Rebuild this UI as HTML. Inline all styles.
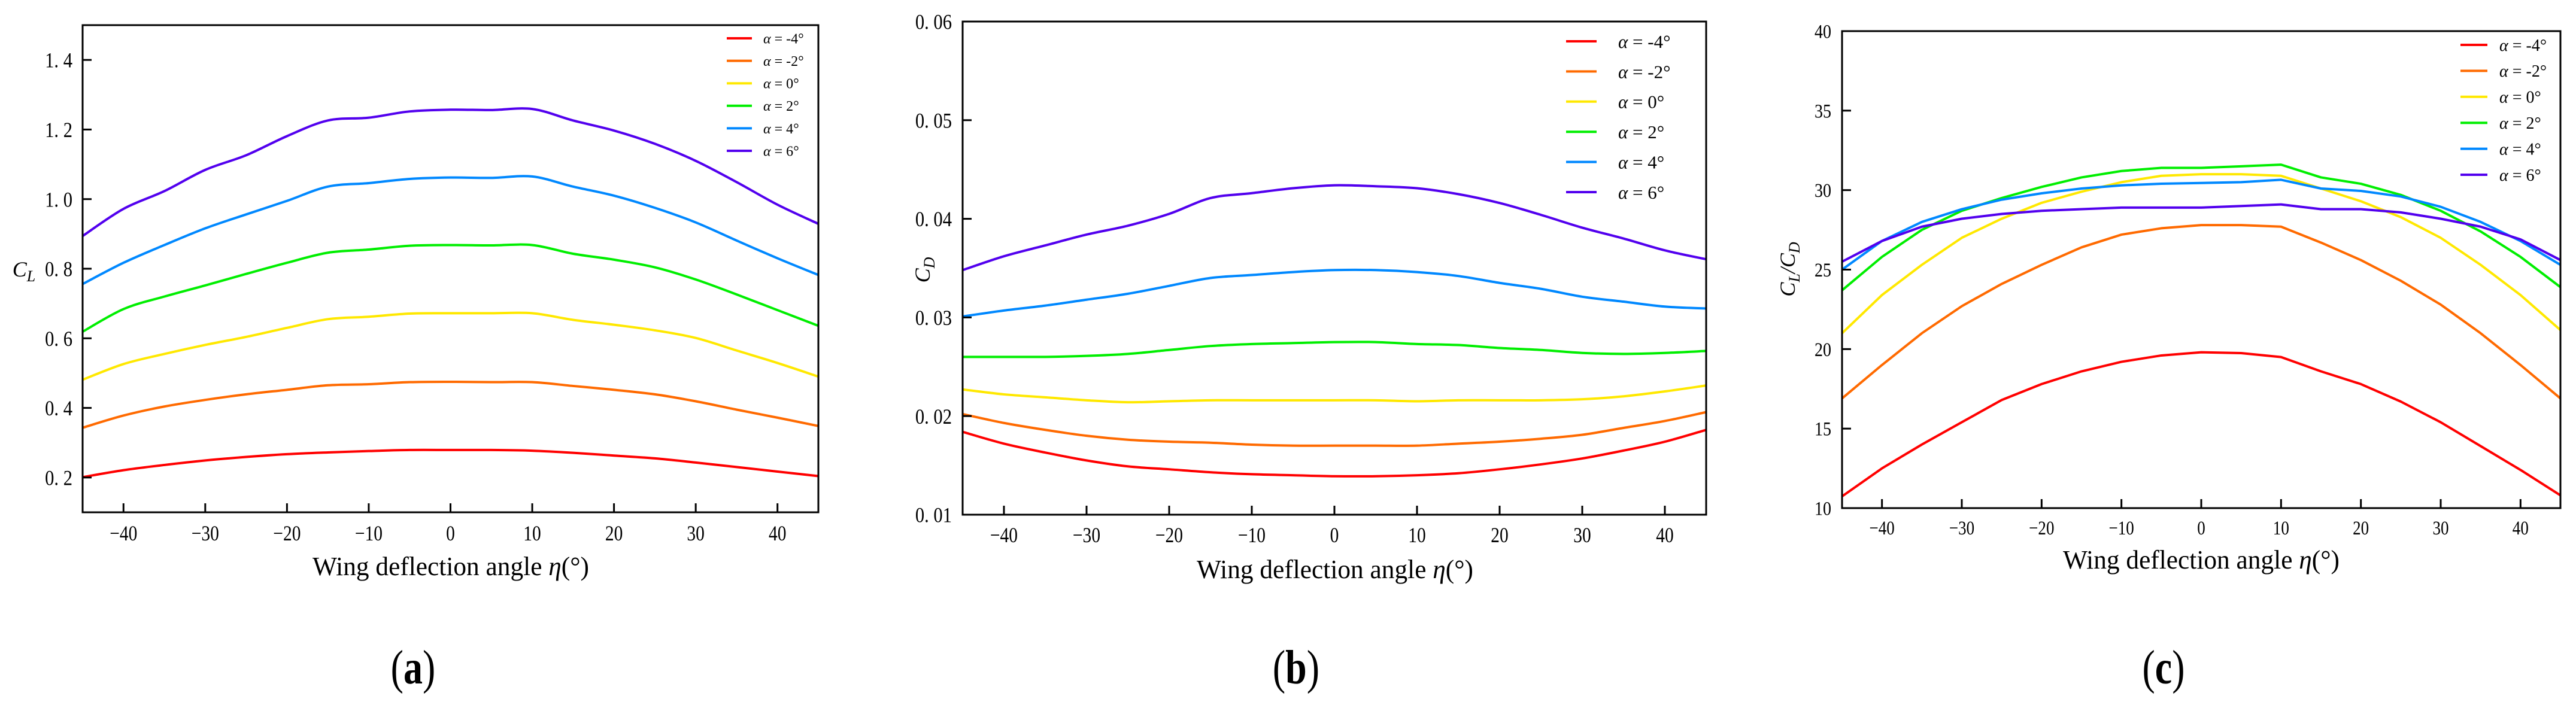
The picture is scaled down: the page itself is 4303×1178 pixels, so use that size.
<!DOCTYPE html>
<html><head><meta charset="utf-8"><style>
html,body{margin:0;padding:0;background:#fff;}
svg{display:block;font-family:"Liberation Serif",serif;}
</style></head><body>
<svg id="fig" width="4303" height="1178" viewBox="0 0 4303 1178" xmlns="http://www.w3.org/2000/svg"></svg>
<script>
const etaValues=[-45,-40,-35,-30,-25,-20,-15,-10,-5,0,5,10,15,20,25,30,35,40,45];
const alphaLabels=["-4","-2","0","2","4","6"];
const clM4=[0.201,0.221,0.236,0.249,0.259,0.267,0.272,0.276,0.279,0.279,0.279,0.277,0.271,0.263,0.255,0.243,0.230,0.217,0.204];
const clM2=[0.343,0.378,0.404,0.423,0.439,0.452,0.465,0.468,0.474,0.475,0.474,0.474,0.463,0.452,0.439,0.419,0.395,0.372,0.348];
const cl0=[0.481,0.526,0.555,0.581,0.604,0.630,0.655,0.662,0.671,0.672,0.672,0.672,0.653,0.639,0.623,0.601,0.565,0.529,0.490];
const cl2=[0.619,0.684,0.720,0.752,0.785,0.817,0.846,0.855,0.866,0.868,0.867,0.868,0.843,0.826,0.804,0.769,0.726,0.681,0.636];
const cl4=[0.756,0.817,0.868,0.916,0.956,0.995,1.036,1.046,1.058,1.062,1.061,1.065,1.036,1.010,0.975,0.933,0.881,0.830,0.782];
const cl6=[0.894,0.972,1.023,1.084,1.126,1.181,1.226,1.234,1.252,1.257,1.256,1.259,1.226,1.197,1.159,1.110,1.049,0.984,0.929];
const cdM4=[0.0184,0.0172,0.0163,0.0155,0.0149,0.0146,0.0143,0.0141,0.0140,0.0139,0.0139,0.0140,0.0142,0.0146,0.0151,0.0157,0.0165,0.0174,0.0186];
const cdM2=[0.0202,0.0193,0.0186,0.0180,0.0176,0.0174,0.0173,0.0171,0.0170,0.0170,0.0170,0.0170,0.0172,0.0174,0.0177,0.0181,0.0188,0.0195,0.0204];
const cd0=[0.0227,0.0222,0.0219,0.0216,0.0214,0.0215,0.0216,0.0216,0.0216,0.0216,0.0216,0.0215,0.0216,0.0216,0.0216,0.0217,0.0220,0.0225,0.0231];
const cd2=[0.0260,0.0260,0.0260,0.0261,0.0263,0.0267,0.0271,0.0273,0.0274,0.0275,0.0275,0.0273,0.0272,0.0269,0.0267,0.0264,0.0263,0.0264,0.0266];
const cd4=[0.0301,0.0307,0.0312,0.0318,0.0324,0.0332,0.0340,0.0343,0.0346,0.0348,0.0348,0.0346,0.0342,0.0335,0.0329,0.0321,0.0316,0.0311,0.0309];
const cd6=[0.0348,0.0362,0.0373,0.0384,0.0393,0.0405,0.0421,0.0426,0.0431,0.0434,0.0433,0.0431,0.0425,0.0416,0.0404,0.0391,0.0380,0.0368,0.0359];
const ldM4=[10.74,12.5,14.0,15.4,16.8,17.8,18.6,19.2,19.6,19.8,19.75,19.5,18.6,17.8,16.7,15.4,13.9,12.4,10.8];
const ldM2=[16.9,19.0,21.0,22.7,24.1,25.3,26.4,27.2,27.6,27.8,27.8,27.7,26.7,25.6,24.3,22.8,21.0,19.0,16.9];
const ld0=[21.0,23.4,25.3,27.0,28.2,29.2,29.9,30.5,30.9,31.0,31.0,30.9,30.1,29.3,28.3,27.0,25.3,23.4,21.2];
const ld2=[23.7,25.8,27.5,28.7,29.5,30.2,30.8,31.2,31.4,31.4,31.5,31.6,30.8,30.4,29.7,28.7,27.4,25.8,23.9];
const ld4=[25.0,26.8,28.0,28.8,29.4,29.8,30.1,30.3,30.4,30.45,30.5,30.65,30.1,29.95,29.6,28.95,28.0,26.8,25.3];
const ld6=[25.5,26.8,27.7,28.2,28.5,28.7,28.8,28.9,28.9,28.9,29.0,29.1,28.8,28.8,28.6,28.2,27.7,26.9,25.6];
const xTicks=[-40,-30,-20,-10,0,10,20,30,40];
const clTicks=[0.2,0.4,0.6,0.8,1.0,1.2,1.4];
const cdTicks=[0.01,0.02,0.03,0.04,0.05,0.06];
const ldTicks=[10,15,20,25,30,35,40];
const colors=["#ff0000","#ff6a00","#ffe800","#00ee00","#0088ff","#5200ee"];
const NS="http://www.w3.org/2000/svg";
const svg=document.getElementById('fig');
function mk(tag,attrs,parent){const e=document.createElementNS(NS,tag);for(const k in attrs)e.setAttribute(k,attrs[k]);(parent||svg).appendChild(e);return e;}
function smoothPath(pts){let d="M"+pts[0][0]+","+pts[0][1];for(let i=0;i<pts.length-1;i++){const p0=pts[Math.max(0,i-1)],p1=pts[i],p2=pts[i+1],p3=pts[Math.min(pts.length-1,i+2)];const c1x=p1[0]+(p2[0]-p0[0])/6,c1y=p1[1]+(p2[1]-p0[1])/6,c2x=p2[0]-(p3[0]-p1[0])/6,c2y=p2[1]-(p3[1]-p1[1])/6;d+=" C"+c1x+","+c1y+" "+c2x+","+c2y+" "+p2[0]+","+p2[1];}return d;}
function panel(cfg){
  const g=mk('g',{});
  
  
  const X=v=>cfg.L+(v+45)/90*(cfg.R-cfg.L);
  const Y=v=>cfg.B-(v-cfg.ymin)/(cfg.ymax-cfg.ymin)*(cfg.B-cfg.T);
  cfg.series.forEach((s,i)=>{
    const pts=etaValues.map((e,j)=>[X(e),Y(s[j])]);
    const d=cfg.smooth?smoothPath(pts):"M"+pts.map(p=>p[0]+","+p[1]).join(" L");
    const p=mk('path',{d:d,fill:'none',stroke:colors[i],'stroke-width':4,'stroke-linejoin':'round'},g);
    
    
  });
  const fr=mk('rect',{x:cfg.L,y:cfg.T,width:cfg.R-cfg.L,height:cfg.B-cfg.T,fill:'none',stroke:'#000','stroke-width':3},g);
  
  
  xTicks.forEach(t=>{
    const tk=mk('line',{x1:X(t),x2:X(t),y1:cfg.B,y2:cfg.B-15,stroke:'#000','stroke-width':3},g);
    
    
    const tx=X(t);
    const tl=mk('text',{x:tx,y:cfg.xlY,'font-size':cfg.tfs,'text-anchor':'middle',transform:'translate('+tx+',0) scale(0.82,1) translate('+(-tx)+',0)'},g);
    tl.textContent=(t<0?"\u2212":"")+Math.abs(t);
    
    
  });
  cfg.yTicks.forEach(t=>{
    const y=Y(t);
    if(y>cfg.T+2&&y<cfg.B-2){
      const tk=mk('line',{x1:cfg.L,x2:cfg.L+15,y1:y,y2:y,stroke:'#000','stroke-width':3},g);
      
      
    }
    const lx=cfg.L-cfg.ylOff;
    const tl=mk('text',{x:lx,y:y+cfg.tfs*0.35,'font-size':cfg.tfs,'text-anchor':'end',transform:'translate('+lx+',0) scale(0.85,1) translate('+(-lx)+',0)'},g);
    tl.textContent=cfg.fmt(t);
    
    
  });
  alphaLabels.forEach((a,i)=>{
    const y=cfg.lg.y0+i*cfg.lg.dy;
    const ln=mk('line',{x1:cfg.lg.x1,x2:cfg.lg.x2,y1:y,y2:y,stroke:colors[i],'stroke-width':4},g);
    
    
    const tx=mk('text',{x:cfg.lg.tx,y:y+cfg.lg.fs*0.35,'font-size':cfg.lg.fs},g);
    tx.innerHTML='<tspan font-style="italic">α</tspan> = '+a+'°';
    
    
  });
  const xt=mk('text',{x:cfg.xtX,y:cfg.xtY,'font-size':44,'text-anchor':'middle',textLength:462,lengthAdjust:'spacingAndGlyphs'},g);
  xt.innerHTML='Wing deflection angle <tspan font-style="italic">η</tspan>(°)';
  
  
  const yt=mk('text',{x:cfg.ytX,y:cfg.ytY,'font-size':36,'text-anchor':'middle','font-style':'italic',transform:cfg.ytRot?'rotate(-90 '+cfg.ytX+' '+cfg.ytY+')':''},g);
  yt.innerHTML=cfg.ytHTML;
  
  
  const pl=mk('text',{x:cfg.plX,y:1142,'font-size':80,'text-anchor':'middle',transform:'translate('+cfg.plX+',0) scale(0.8,1) translate('+(-cfg.plX)+',0)'},g);
  pl.innerHTML='(<tspan font-weight="bold">'+cfg.letter+'</tspan>)';
  
  
}
panel({name:'lift-coefficient-chart',L:138,R:1367,T:42,B:856,ymin:0.1,ymax:1.5,smooth:true,
  series:[clM4,clM2,cl0,cl2,cl4,cl6],yTicks:clTicks,fmt:t=>t.toFixed(1).replace('.','. '),
  tfs:36,xlY:903,ylOff:17,lg:{x1:1214,x2:1256,tx:1275,y0:64,dy:37.6,fs:24},
  xtX:753,xtY:961,ytX:40,ytY:462,ytRot:false,ytHTML:'C<tspan font-size="26" dy="8">L</tspan>',plX:690,letter:'a'});
panel({name:'drag-coefficient-chart',L:1608,R:2850,T:36,B:860,ymin:0.01,ymax:0.06,smooth:true,
  series:[cdM4,cdM2,cd0,cd2,cd4,cd6],yTicks:cdTicks,fmt:t=>t.toFixed(2).replace('.','. '),
  tfs:36,xlY:906,ylOff:18,lg:{x1:2616,x2:2667,tx:2703,y0:69,dy:50.4,fs:31},
  xtX:2230,xtY:966,ytX:1553,ytY:451,ytRot:true,ytHTML:'C<tspan font-size="26" dy="8">D</tspan>',plX:2165,letter:'b'});
panel({name:'lift-drag-ratio-chart',L:3077,R:4277,T:52,B:849,ymin:10,ymax:40,smooth:false,
  series:[ldM4,ldM2,ld0,ld2,ld4,ld6],yTicks:ldTicks,fmt:t=>String(t),
  tfs:33,xlY:893,ylOff:18,lg:{x1:4110,x2:4155,tx:4175,y0:75,dy:43.4,fs:28},
  xtX:3677,xtY:950,ytX:2998,ytY:450,ytRot:true,ytHTML:'C<tspan font-size="26" dy="8">L</tspan><tspan dy="-8">/C</tspan><tspan font-size="26" dy="8">D</tspan>',plX:3614,letter:'c'});
</script>
</body></html>
